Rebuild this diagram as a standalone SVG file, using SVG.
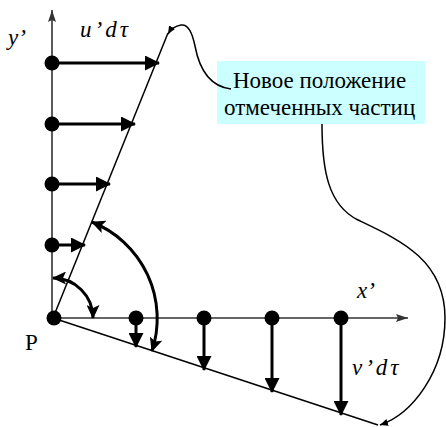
<svg xmlns="http://www.w3.org/2000/svg" width="446" height="427" viewBox="0 0 446 427">
<style>
.axis{stroke:#333;stroke-width:1.6;fill:none}
.thin{stroke:#000;stroke-width:1.5;fill:none}
.vec{stroke:#000;stroke-width:3;fill:none;marker-end:url(#ah)}
.arc{stroke:#000;stroke-width:3;fill:none;marker-start:url(#ah2);marker-end:url(#ah2)}
.dot{fill:#000}
text{font-family:'Liberation Serif','Times New Roman','DejaVu Serif',serif;fill:#000}
.it{font-style:italic;font-size:23px}
</style>
<defs>
<marker id="ah" markerUnits="userSpaceOnUse" markerWidth="15" markerHeight="15" refX="14" refY="7.5" orient="auto" viewBox="0 0 15 15"><path d="M0,0 L15,7.5 L0,15 z" fill="#000"/></marker>
<marker id="ah2" markerUnits="userSpaceOnUse" markerWidth="14" markerHeight="13" refX="13" refY="6.5" orient="auto-start-reverse" viewBox="0 0 14 13"><path d="M0,0 L14,6.5 L0,13 L3,6.5 z" fill="#000"/></marker>
<marker id="ax" markerUnits="userSpaceOnUse" markerWidth="12" markerHeight="8" refX="12" refY="4" orient="auto" viewBox="0 0 12 8"><path d="M0,0 L12,4 L0,8 L2,4 z" fill="#333"/></marker>
<marker id="sm" markerUnits="userSpaceOnUse" markerWidth="8" markerHeight="7" refX="8" refY="3.5" orient="auto" viewBox="0 0 8 7"><path d="M0,0 L8,3.5 L0,7 z" fill="#000"/></marker>
</defs>
<rect id="label-box" x="217" y="61" width="208" height="63" fill="#ccffff"/>
<g id="connectors">
<line class="axis" x1="52" y1="318" x2="52" y2="10" marker-end="url(#ax)"/>
<line class="axis" x1="52" y1="318" x2="408" y2="318" marker-end="url(#ax)"/>
<line class="thin" x1="53" y1="318" x2="168" y2="33"/>
<line class="thin" x1="53" y1="318" x2="378" y2="425"/>
<line class="vec" x1="52" y1="63" x2="159" y2="63"/>
<line class="vec" x1="52" y1="124" x2="135" y2="124"/>
<line class="vec" x1="52" y1="184" x2="110" y2="184"/>
<line class="vec" x1="52" y1="245" x2="85" y2="245"/>
<line class="vec" x1="136" y1="318" x2="136" y2="347"/>
<line class="vec" x1="204" y1="318" x2="204" y2="370"/>
<line class="vec" x1="272" y1="318" x2="272" y2="392"/>
<line class="vec" x1="341" y1="318" x2="341" y2="415"/>
<path class="arc" d="M53,278 A40,40 0 0 1 93,318"/>
<path class="arc" d="M92,222 A104,104 0 0 1 152,351"/>
<path class="thin" d="M231,89 C206,86 198,62 195,46 C192,31 187,24 181,25 C175,26 171,29 168,34" marker-end="url(#sm)"/>
<path class="thin" d="M322,124 C322,170 328,205 358,220 C400,240 445,260 445,318 C445,372 412,414 380,425" marker-end="url(#sm)"/>
</g>
<g id="dots">
<circle class="dot" cx="52" cy="63" r="7.5"/>
<circle class="dot" cx="52" cy="124" r="7.5"/>
<circle class="dot" cx="52" cy="184" r="7.5"/>
<circle class="dot" cx="52" cy="245" r="7.5"/>
<circle class="dot" cx="54" cy="318" r="7.5"/>
<circle class="dot" cx="136" cy="318" r="7.5"/>
<circle class="dot" cx="204" cy="318" r="7.5"/>
<circle class="dot" cx="272" cy="318" r="7.5"/>
<circle class="dot" cx="341" cy="318" r="7.5"/>
</g>
<g id="labels">
<text class="it" x="8" y="45">y’</text>
<text class="it" x="80" y="37" letter-spacing="3">u’dτ</text>
<text class="it" x="357" y="298">x’</text>
<text class="it" x="352" y="375" letter-spacing="3">v’dτ</text>
<text x="25" y="350" font-size="23">P</text>
<text x="233" y="88" font-size="23">Новое положение</text>
<text x="224" y="115" font-size="23">отмеченных частиц</text>
</g>
</svg>
